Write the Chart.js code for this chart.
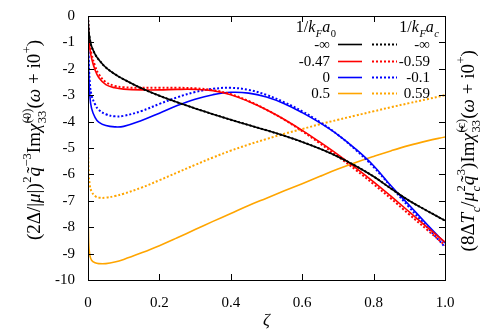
<!DOCTYPE html>
<html>
<head>
<meta charset="utf-8">
<script src="https://cdn.jsdelivr.net/npm/chart.js@4.4.1/dist/chart.umd.min.js"></script>
<style>
  html, body { margin: 0; padding: 0; background: #fff; }
</style>
</head>
<body>
<canvas id="chiChart" width="499" height="332"></canvas>
<script>
// zeta grid shared by all curves
const zeta = [0, 0.002, 0.005, 0.01, 0.02, 0.03, 0.05, 0.075, 0.1, 0.15, 0.2, 0.25, 0.3, 0.35,
  0.4, 0.45, 0.5, 0.55, 0.6, 0.65, 0.7, 0.75, 0.8, 0.85, 0.9, 0.95, 1.0];

// 1/kF a0 = -inf (solid) and 1/kF ac = -inf (dotted) lie on top of each other
const blackInf = [0, -0.55, -0.85, -1.15, -1.45, -1.65, -1.95, -2.2, -2.4, -2.74, -3.02, -3.27, -3.5, -3.72,
  -3.93, -4.13, -4.33, -4.54, -4.77, -5.03, -5.33, -5.68, -6.08, -6.55, -7.0, -7.38, -7.75];
const redA0 = [0, -0.8, -1.2, -1.6, -2.05, -2.33, -2.6, -2.72, -2.77, -2.8, -2.8, -2.78, -2.78, -2.83,
  -2.98, -3.24, -3.55, -3.92, -4.33, -4.78, -5.25, -5.75, -6.28, -6.84, -7.42, -8.0, -8.56];
const redAc = [0, -0.7, -1.05, -1.45, -1.9, -2.2, -2.5, -2.65, -2.7, -2.72, -2.72, -2.72, -2.74, -2.81,
  -2.96, -3.22, -3.55, -3.93, -4.36, -4.83, -5.32, -5.83, -6.37, -6.93, -7.52, -8.1, -8.68];
const blueA0 = [0, -2.0, -3.0, -3.5, -3.85, -4.02, -4.15, -4.2, -4.18, -3.96, -3.68, -3.39, -3.15, -2.98,
  -2.89, -2.92, -3.07, -3.32, -3.66, -4.05, -4.5, -5.04, -5.67, -6.45, -7.17, -7.9, -8.6];
const blueAc = [0, -1.6, -2.5, -3.0, -3.35, -3.55, -3.72, -3.8, -3.78, -3.6, -3.33, -3.08, -2.88, -2.76,
  -2.72, -2.8, -2.99, -3.27, -3.61, -4.02, -4.5, -5.07, -5.72, -6.48, -7.25, -8.0, -8.75];
const orangeA0 = [-6.8, -8.6, -9.05, -9.25, -9.35, -9.38, -9.38, -9.32, -9.22, -8.97, -8.7, -8.4, -8.09, -7.78,
  -7.48, -7.18, -6.9, -6.62, -6.35, -6.07, -5.8, -5.55, -5.32, -5.1, -4.9, -4.73, -4.58];
const orangeAc = [-4.9, -5.9, -6.4, -6.65, -6.82, -6.88, -6.88, -6.82, -6.73, -6.5, -6.22, -5.93, -5.64, -5.36,
  -5.1, -4.87, -4.66, -4.46, -4.28, -4.1, -3.93, -3.77, -3.61, -3.45, -3.3, -3.15, -3.0];

// legend labels
const labelsA0 = ["-\u221e", "-0.47", "0", "0.5"];
const labelsAc = ["-\u221e", "-0.59", "-0.1", "0.59"];
const colors = ["#000000", "#ff0000", "#0000ff", "#ffa500"];

const xTicks = { min: 0, max: 1, step: 0.2 };
const yTicks = { min: -10, max: 0, step: 1 };

const SERIF = "'Liberation Serif', 'DejaVu Serif', serif";
const fnt = (size, it) => (it ? "italic " : "") + size + "px " + SERIF;

function pts(arr) {
  return zeta.map((z, i) => ({ x: z, y: arr[i] }));
}

function line(label, arr, color, dotted) {
  return {
    label: label,
    data: pts(arr),
    borderColor: color,
    borderWidth: dotted ? 2 : 1.6,
    borderDash: dotted ? [2, 2] : [],
    pointRadius: 0,
    fill: false,
    tension: 0.4
  };
}

// draw text made of pieces, with stacked sup/sub scripts
function richWidth(ctx, parts, size) {
  let w = 0;
  for (const p of parts) {
    if (p.t) { ctx.font = fnt(size, p.i); w += ctx.measureText(p.t).width; }
    let s = 0;
    if (p.sup) { ctx.font = fnt(size * 0.66, p.si); s = Math.max(s, ctx.measureText(p.sup).width); }
    if (p.sub) { ctx.font = fnt(size * 0.66, p.bi); s = Math.max(s, ctx.measureText(p.sub).width); }
    w += s;
  }
  return w;
}

function drawRich(ctx, parts, x, y, size, align) {
  const w = richWidth(ctx, parts, size);
  let cx = align === "center" ? x - w / 2 : align === "right" ? x - w : x;
  ctx.textAlign = "left";
  ctx.textBaseline = "alphabetic";
  for (const p of parts) {
    if (p.t) {
      ctx.font = fnt(size, p.i);
      ctx.fillText(p.t, cx, y);
      cx += ctx.measureText(p.t).width;
    }
    let s = 0;
    if (p.sup) {
      ctx.font = fnt(size * 0.66, p.si);
      ctx.fillText(p.sup, cx + 0.5, y - size * 0.48);
      s = Math.max(s, ctx.measureText(p.sup).width + 0.5);
    }
    if (p.sub) {
      ctx.font = fnt(size * 0.66, p.bi);
      ctx.fillText(p.sub, cx + 0.5, y + size * 0.3);
      s = Math.max(s, ctx.measureText(p.sub).width + 0.5);
    }
    cx += s;
  }
}

const leftTitle = [
  { t: "(2\u0394/|" }, { t: "\u03bc", i: true }, { t: "|)", sup: "2" },
  { t: "q\u0303", i: true, sup: "\u22123" }, { t: "Im" },
  { t: "\u03c7\u0303", i: true, sup: "(0)", sub: "33" },
  { t: "(" }, { t: "\u03c9", i: true }, { t: " + i0", sup: "+" }, { t: ")" }
];
const rightTitle = [
  { t: "(8\u0394" }, { t: "T", i: true, sub: "c", bi: true }, { t: "/" },
  { t: "\u03bc", i: true, sup: "2", sub: "c", bi: true },
  { t: "q\u0303", i: true, sup: "3" }, { t: ")Im" },
  { t: "\u03c7\u0303", i: true, sup: "(c)", sub: "33" },
  { t: "(" }, { t: "\u03c9", i: true }, { t: " + i0", sup: "+" }, { t: ")" }
];
const headA0 = [{ t: "1/" }, { t: "k", i: true, sub: "F", bi: true }, { t: "a", i: true, sub: "0" }];
const headAc = [{ t: "1/" }, { t: "k", i: true, sub: "F", bi: true }, { t: "a", i: true, sub: "c", bi: true }];

const decor = {
  id: "decor",
  afterDatasetsDraw(chart) {
    const { ctx, chartArea: a, scales: { x, y } } = chart;
    ctx.save();
    // frame and inward ticks
    ctx.strokeStyle = "#000";
    ctx.lineWidth = 1;
    ctx.strokeRect(a.left + 0.5, a.top + 0.5, a.right - a.left, a.bottom - a.top);
    ctx.beginPath();
    y.ticks.forEach(t => {
      const p = Math.round(y.getPixelForValue(t.value)) + 0.5;
      ctx.moveTo(a.left, p); ctx.lineTo(a.left + 6, p);
      ctx.moveTo(a.right, p); ctx.lineTo(a.right - 6, p);
    });
    x.ticks.forEach(t => {
      const p = Math.round(x.getPixelForValue(t.value)) + 0.5;
      ctx.moveTo(p, a.bottom); ctx.lineTo(p, a.bottom - 6);
      ctx.moveTo(p, a.top); ctx.lineTo(p, a.top + 6);
    });
    ctx.stroke();

    // legend
    ctx.fillStyle = "#000";
    drawRich(ctx, headA0, 335, 32, 16, "right");
    drawRich(ctx, headAc, 438, 32, 16, "right");
    const rows = [44, 61, 77, 93];
    rows.forEach((ry, i) => {
      ctx.fillStyle = "#000";
      ctx.font = fnt(15);
      ctx.textAlign = "right";
      ctx.textBaseline = "middle";
      ctx.fillText(labelsA0[i], 330, ry + 1);
      ctx.fillText(labelsAc[i], 430, ry + 1);
      ctx.strokeStyle = colors[i];
      ctx.lineWidth = 1.6;
      ctx.setLineDash([]);
      ctx.beginPath(); ctx.moveTo(338, ry + 0.5); ctx.lineTo(362, ry + 0.5); ctx.stroke();
      ctx.lineWidth = 2;
      ctx.setLineDash([2, 2]);
      ctx.beginPath(); ctx.moveTo(372, ry + 0.5); ctx.lineTo(397, ry + 0.5); ctx.stroke();
      ctx.setLineDash([]);
    });

    // axis titles
    ctx.fillStyle = "#000";
    ctx.font = fnt(17, true);
    ctx.textAlign = "center";
    ctx.textBaseline = "alphabetic";
    ctx.fillText("\u03b6", (a.left + a.right) / 2, 325);

    ctx.save();
    ctx.translate(40, 141);
    ctx.rotate(-Math.PI / 2);
    drawRich(ctx, leftTitle, 0, 0, 19, "center");
    ctx.restore();

    ctx.save();
    ctx.translate(474, 152);
    ctx.rotate(-Math.PI / 2);
    drawRich(ctx, rightTitle, 0, 0, 19, "center");
    ctx.restore();

    ctx.restore();
  }
};

new Chart(document.getElementById("chiChart"), {
  type: "line",
  data: {
    datasets: [
      line("-inf a0", blackInf, colors[0], false),
      line("-inf ac", blackInf, colors[0], true),
      line("-0.47", redA0, colors[1], false),
      line("-0.59", redAc, colors[1], true),
      line("0", blueA0, colors[2], false),
      line("-0.1", blueAc, colors[2], true),
      line("0.5", orangeA0, colors[3], false),
      line("0.59", orangeAc, colors[3], true)
    ]
  },
  options: {
    responsive: false,
    animation: false,
    devicePixelRatio: 1,
    layout: { padding: { left: 0, right: 54, top: 16, bottom: 0 } },
    plugins: { legend: { display: false }, tooltip: { enabled: false } },
    scales: {
      x: {
        type: "linear",
        min: xTicks.min, max: xTicks.max,
        grid: { display: false },
        border: { display: false },
        ticks: { stepSize: xTicks.step, color: "#000", padding: 6, font: { family: SERIF, size: 15 } },
        afterFit: s => { s.height = 52; }
      },
      y: {
        type: "linear",
        min: yTicks.min, max: yTicks.max,
        grid: { display: false },
        border: { display: false },
        ticks: { stepSize: yTicks.step, color: "#000", padding: 5, font: { family: SERIF, size: 15 } },
        afterFit: s => { s.width = 88; }
      }
    }
  },
  plugins: [decor]
});
</script>
</body>
</html>
